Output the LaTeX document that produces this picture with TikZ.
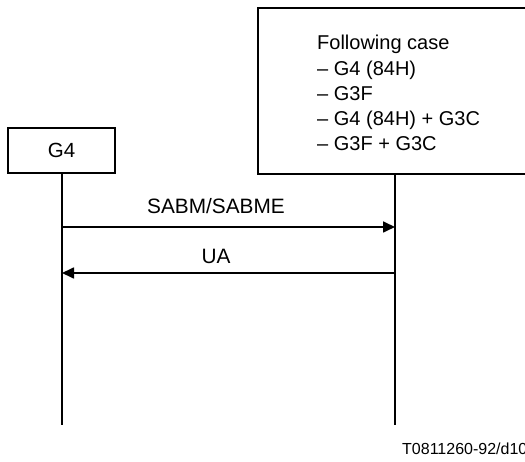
\documentclass[tikz,border=0pt]{standalone}
\usepackage{fontspec}
\setmainfont{Liberation Sans}
\usetikzlibrary{arrows.meta}
\begin{document}
\begin{tikzpicture}[x=1pt,y=1pt,
  entity/.style={draw, line width=1.3pt, inner sep=0pt},
  lifeline/.style={line width=2pt},
  msg/.style={line width=1.7pt, -{Triangle[length=12pt,width=11pt]}},
  lbl/.style={font=\fontsize{20.8}{25}\selectfont, inner sep=0pt},
  boxtxt/.style={font=\fontsize{20}{25}\selectfont, inner sep=0pt, anchor=base west}]
\useasboundingbox (0,0) rectangle (525,461);
\clip (0,0) rectangle (525,461);
% entities
\node[entity, minimum width=107pt, minimum height=45pt, font=\fontsize{20.5}{25}\selectfont] (A) at (61.5,{461-150.5}) {G4};
\node[entity, minimum width=282pt, minimum height=166pt] (B) at (399,{461-91}) {};
\node[boxtxt] (t1) at (317,{461-50}) {Following case};
\node[boxtxt] (t2) at (317,{461-75.5}) {– G4 (84H)};
\node[boxtxt] (t3) at (317,{461-100.5}) {– G3F};
\node[boxtxt] (t4) at (317,{461-125.5}) {– G4 (84H) + G3C};
\node[boxtxt] (t5) at (317,{461-150.5}) {– G3F + G3C};
% lifelines
\coordinate (la) at (62,{461-425});
\coordinate (lb) at (395,{461-425});
\draw[lifeline] (A.south -| la) -- (la);
\draw[lifeline] (B.south -| lb) -- (lb);
% messages
\coordinate (m1) at (0,{461-227});
\coordinate (m2) at (0,{461-273});
\draw[msg] (la |- m1) -- (lb |- m1);
\draw[msg] (lb |- m2) -- (la |- m2);
\node[lbl] (s1) at (216,{461-206}) {SABM/SABME};
\node[lbl] (s2) at (216,{461-256}) {UA};
% footer
\node[font=\fontsize{16}{19}\selectfont, inner sep=0pt, anchor=base west] (f) at (402,{461-454}) {T0811260-92/d10};
\end{tikzpicture}
\end{document}
